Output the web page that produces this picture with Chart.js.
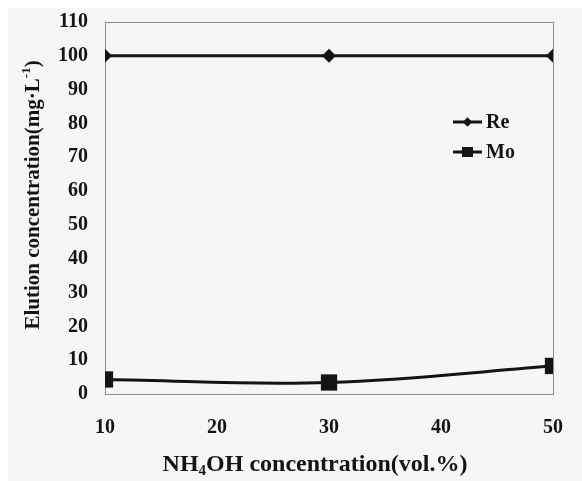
<!DOCTYPE html>
<html>
<head>
<meta charset="utf-8">
<script src="https://cdn.jsdelivr.net/npm/chart.js@4/dist/chart.umd.min.js"></script>
<style>
  html, body { margin: 0; padding: 0; background: #ffffff; }
  #wrap { position: absolute; left: 8px; top: 8px; width: 574px; height: 473px; background: #f6f6f6; }
</style>
</head>
<body>
<div id="wrap"><canvas id="c"></canvas></div>
<script>
// NH4OH concentration (vol.%) and elution concentrations (mg/L)
const concentrations = [10, 30, 50];
const reValues = [100, 100, 100];
const moValues = [4.3, 3.4, 8.3];
const xTickValues = [10, 20, 30, 40, 50];
const yTickValues = [0, 10, 20, 30, 40, 50, 60, 70, 80, 90, 100, 110];
const seriesNames = ['Re', 'Mo'];

const FONT = '"Liberation Serif", "Times New Roman", serif';
const INK = '#141414';

function pts(xs, ys) { return xs.map((x, i) => ({ x: x, y: ys[i] })); }

// frame around the plot area
const framePlugin = {
  id: 'frame',
  beforeDatasetsDraw(chart) {
    const a = chart.chartArea, ctx = chart.ctx;
    ctx.save();
    ctx.strokeStyle = '#8c8c8c';
    ctx.lineWidth = 1;
    ctx.strokeRect(Math.round(a.left) + 0.5, Math.round(a.top) + 0.5,
                   Math.round(a.right - a.left), Math.round(a.bottom - a.top));
    ctx.restore();
  }
};

// axis titles with sub/superscripts
const titlesPlugin = {
  id: 'titles',
  afterDraw(chart) {
    const ctx = chart.ctx;
    ctx.save();
    ctx.fillStyle = INK;
    ctx.textBaseline = 'middle';

    // x title
    const xBig = 'bold 24px ' + FONT, xSmall = 'bold 15px ' + FONT;
    const xParts = [['NH', xBig, 0], ['4', xSmall, 6], ['OH concentration(vol.%)', xBig, 0]];
    let w = 0;
    xParts.forEach(p => { ctx.font = p[1]; w += ctx.measureText(p[0]).width; });
    let x = 307 - w / 2;
    const y = 457;
    xParts.forEach(p => {
      ctx.font = p[1];
      ctx.fillText(p[0], x, y + p[2]);
      x += ctx.measureText(p[0]).width;
    });

    // y title (rotated)
    const yBig = 'bold 21px ' + FONT, ySmall = 'bold 13px ' + FONT;
    ctx.translate(26, 187);
    ctx.rotate(-Math.PI / 2);
    const yParts = [['Elution concentration(mg·L', yBig, 0], ['-1', ySmall, -7], [')', yBig, 0]];
    w = 0;
    yParts.forEach(p => { ctx.font = p[1]; w += ctx.measureText(p[0]).width; });
    x = -w / 2;
    yParts.forEach(p => {
      ctx.font = p[1];
      ctx.fillText(p[0], x, p[2]);
      x += ctx.measureText(p[0]).width;
    });
    ctx.restore();
  }
};

// legend inside the plot area
const legendPlugin = {
  id: 'innerLegend',
  afterDraw(chart) {
    const ctx = chart.ctx;
    ctx.save();
    const rows = [114, 144];
    chart.data.datasets.forEach((ds, i) => {
      const y = rows[i];
      ctx.strokeStyle = INK;
      ctx.lineWidth = 3;
      ctx.beginPath();
      ctx.moveTo(445, y);
      ctx.lineTo(474, y);
      ctx.stroke();
      ctx.fillStyle = INK;
      if (ds.pointStyle === 'rectRot') {
        Chart.helpers.drawPoint(ctx, { pointStyle: 'rectRot', radius: 4.5, borderWidth: 0 }, 459.5, y);
        ctx.fill();
      } else {
        ctx.fillRect(454, y - 5, 11, 10);
      }
      ctx.font = 'bold 20px ' + FONT;
      ctx.textBaseline = 'middle';
      ctx.fillText(ds.label, 478, y + 1);
    });
    ctx.restore();
  }
};

new Chart(document.getElementById('c'), {
  type: 'line',
  data: {
    datasets: [
      {
        label: seriesNames[0],
        data: pts(concentrations, reValues),
        borderColor: INK,
        backgroundColor: INK,
        borderWidth: 3,
        pointStyle: 'rectRot',
        pointRadius: 7,
        pointBorderWidth: 0,
        tension: 0.4
      },
      {
        label: seriesNames[1],
        data: pts(concentrations, moValues),
        borderColor: INK,
        backgroundColor: INK,
        borderWidth: 3,
        pointStyle: 'rect',
        pointRadius: 11.5,
        pointBorderWidth: 0,
        tension: 0.4
      }
    ]
  },
  options: {
    responsive: true,
    maintainAspectRatio: false,
    animation: false,
    events: [],
    layout: { padding: { left: 0, top: 14, right: 29, bottom: 0 } },
    plugins: { legend: { display: false }, tooltip: { enabled: false } },
    scales: {
      x: {
        type: 'linear',
        min: 10,
        max: 50,
        afterBuildTicks(s) { s.ticks = xTickValues.map(v => ({ value: v })); },
        afterFit(s) { s.height = 87; s.paddingLeft = 0; s.paddingRight = 0; },
        grid: { display: false, drawTicks: false },
        border: { display: false },
        ticks: { padding: 22, color: INK, font: { family: FONT, size: 20, weight: 'bold' } }
      },
      y: {
        type: 'linear',
        min: 0,
        max: 110,
        afterBuildTicks(s) { s.ticks = yTickValues.map(v => ({ value: v })); },
        afterFit(s) { s.width = 97; s.paddingTop = 0; s.paddingBottom = 0; },
        grid: { display: false, drawTicks: false },
        border: { display: false },
        ticks: { padding: 17, color: INK, font: { family: FONT, size: 20, weight: 'bold' } }
      }
    }
  },
  plugins: [framePlugin, titlesPlugin, legendPlugin]
});
</script>
</body>
</html>
